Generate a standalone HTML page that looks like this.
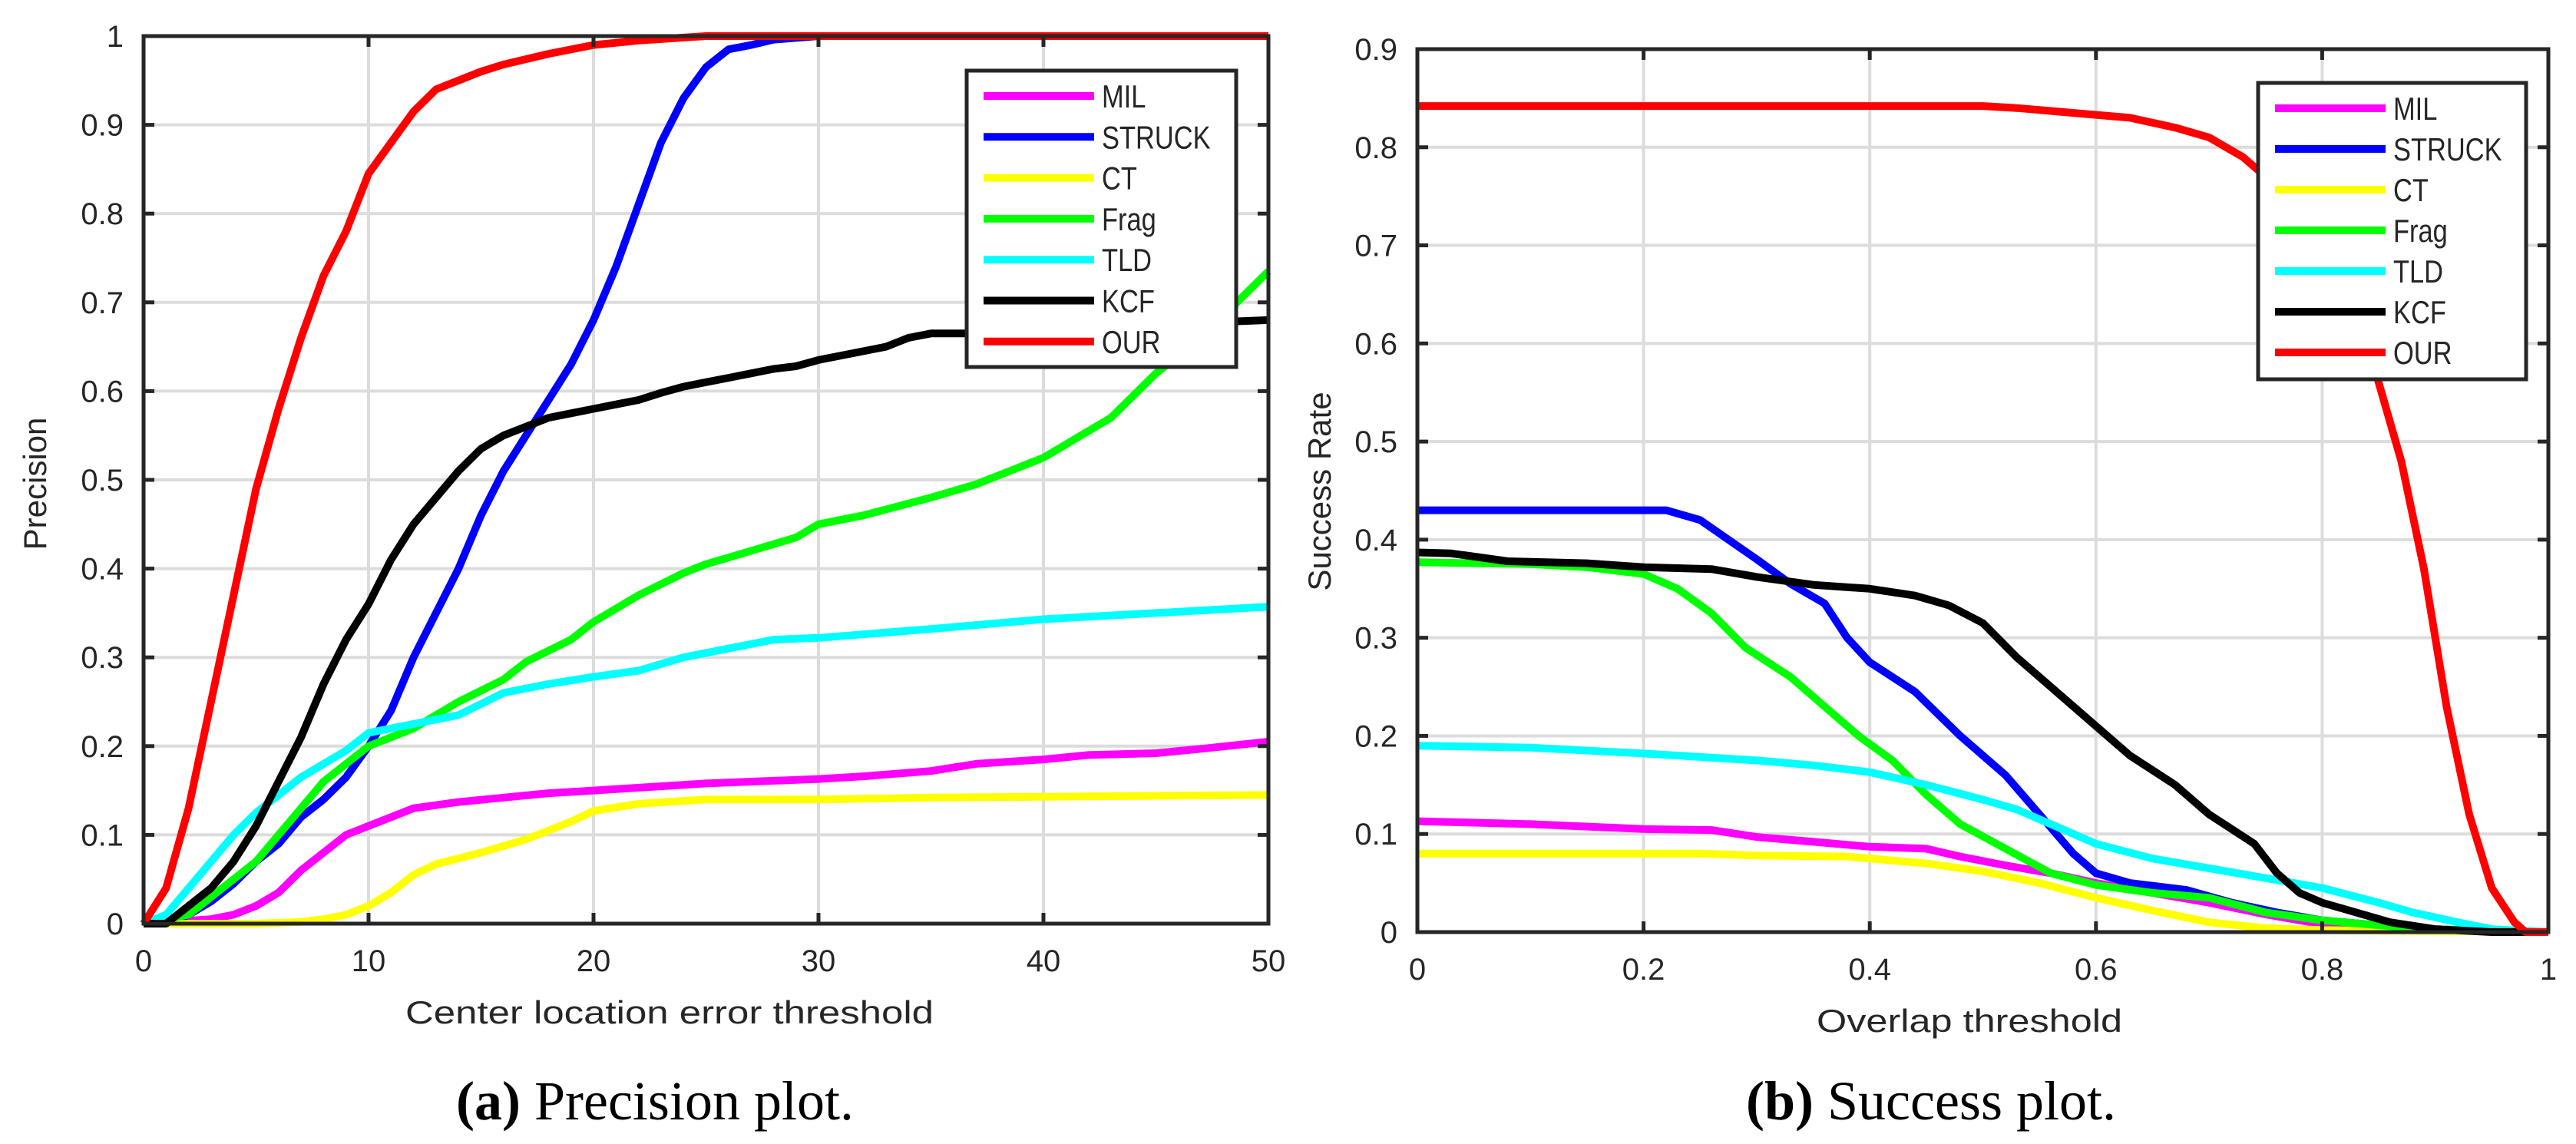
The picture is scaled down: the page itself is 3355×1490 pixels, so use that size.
<!DOCTYPE html>
<html><head><meta charset="utf-8"><style>
html,body{margin:0;padding:0;background:#fff;}
svg{display:block;}
text{font-family:"Liberation Sans",sans-serif;fill:#262626;}
</style></head><body>
<svg id="fig" width="3355" height="1490" viewBox="0 0 3355 1490" xmlns="http://www.w3.org/2000/svg">
<text x="853" y="1458" text-anchor="middle" style="font-family:'Liberation Serif',serif;font-size:72px;fill:#000"><tspan font-weight="bold">(a)</tspan> Precision plot.</text>
<text x="2515" y="1458" text-anchor="middle" style="font-family:'Liberation Serif',serif;font-size:72px;fill:#000"><tspan font-weight="bold">(b)</tspan> Success plot.</text>
</svg>
<script>
const names=["MIL","STRUCK","CT","Frag","TLD","KCF","OUR"];
const colors=["#ff00ff","#0000ff","#ffff00","#00ff00","#00ffff","#000000","#ff0000"];
// Precision plot data (x = threshold, y = precision)
const pMIL_x=[0,3,4,5,6,7,8,9,10,11,12,14,16,18,20,25,30,32,35,37,40,42,45,47,50];
const pMIL_y=[0,0.005,0.01,0.02,0.035,0.06,0.08,0.1,0.11,0.12,0.13,0.137,0.142,0.147,0.15,0.158,0.163,0.166,0.172,0.18,0.185,0.19,0.192,0.197,0.205];
const pSTRUCK_x=[0,1,2,3,4,5,6,7,8,9,10,11,12,13,14,15,16,17,18,19,20,21,22,23,24,25,26,27,28,30,50];
const pSTRUCK_y=[0,0,0.01,0.025,0.045,0.07,0.09,0.12,0.14,0.165,0.2,0.24,0.3,0.35,0.4,0.46,0.51,0.55,0.59,0.63,0.68,0.74,0.81,0.88,0.93,0.965,0.985,0.99,0.996,1,1];
const pCT_x=[0,5,7,8,9,10,11,12,13,15,17,19,20,22,25,30,35,40,50];
const pCT_y=[0,0,0.002,0.005,0.01,0.02,0.035,0.055,0.067,0.08,0.095,0.115,0.127,0.135,0.14,0.14,0.142,0.143,0.145];
const pFrag_x=[0,2,3,4,5,6,7,8,9,10,12,14,16,17,19,20,22,24,25,27,29,30,32,35,37,40,43,45,47,50];
const pFrag_y=[0,0.01,0.03,0.05,0.07,0.1,0.13,0.16,0.18,0.2,0.22,0.25,0.275,0.295,0.32,0.34,0.37,0.395,0.405,0.42,0.435,0.45,0.46,0.48,0.495,0.525,0.57,0.62,0.66,0.735];
const pTLD_x=[0,1,2,3,4,5,6,7,8,9,10,11,13,14,16,18,20,22,24,26,28,30,35,40,45,50];
const pTLD_y=[0,0.01,0.04,0.07,0.1,0.125,0.145,0.165,0.18,0.195,0.215,0.22,0.23,0.235,0.26,0.27,0.278,0.285,0.3,0.31,0.32,0.322,0.332,0.343,0.35,0.357];
const pKCF_x=[0,1,2,3,4,5,6,7,8,9,10,11,12,13,14,15,16,17,18,19,20,21,22,23,24,25,26,27,28,29,30,32,33,34,35,37,40,45,50];
const pKCF_y=[0,0,0.02,0.04,0.07,0.11,0.16,0.21,0.27,0.32,0.36,0.41,0.45,0.48,0.51,0.535,0.55,0.56,0.57,0.575,0.58,0.585,0.59,0.598,0.605,0.61,0.615,0.62,0.625,0.628,0.635,0.645,0.65,0.66,0.665,0.665,0.67,0.675,0.68];
const pOUR_x=[0,1,2,3,4,5,6,7,8,9,10,11,12,13,14,15,16,18,20,22,25,50];
const pOUR_y=[0,0.04,0.13,0.25,0.37,0.49,0.58,0.66,0.73,0.78,0.845,0.88,0.915,0.94,0.95,0.96,0.968,0.98,0.99,0.995,1,1];
// Success plot data (x = overlap threshold, y = success rate)
const sMIL_x=[0,0.1,0.2,0.26,0.3,0.35,0.4,0.45,0.48,0.52,0.56,0.6,0.65,0.7,0.75,0.8,0.85,0.9,1];
const sMIL_y=[0.113,0.11,0.105,0.104,0.097,0.092,0.087,0.085,0.077,0.068,0.06,0.05,0.04,0.03,0.018,0.008,0.004,0.002,0];
const sSTRUCK_x=[0,0.22,0.25,0.3,0.33,0.36,0.38,0.4,0.44,0.48,0.52,0.55,0.58,0.6,0.63,0.68,0.72,0.76,0.8,0.85,0.9,0.95,1];
const sSTRUCK_y=[0.43,0.43,0.42,0.38,0.355,0.335,0.3,0.275,0.245,0.2,0.16,0.12,0.08,0.06,0.05,0.043,0.03,0.02,0.012,0.007,0.003,0.001,0];
const sCT_x=[0,0.25,0.3,0.38,0.45,0.5,0.55,0.6,0.65,0.7,0.75,0.8,0.9,1];
const sCT_y=[0.08,0.08,0.078,0.077,0.07,0.062,0.05,0.035,0.022,0.01,0.004,0.002,0.001,0];
const sFrag_x=[0,0.1,0.15,0.2,0.23,0.26,0.29,0.33,0.36,0.39,0.42,0.45,0.48,0.52,0.56,0.6,0.65,0.7,0.75,0.8,0.85,0.9,0.95,1];
const sFrag_y=[0.377,0.375,0.372,0.365,0.35,0.325,0.29,0.26,0.23,0.2,0.175,0.14,0.11,0.085,0.06,0.048,0.04,0.035,0.02,0.012,0.007,0.003,0.001,0];
const sTLD_x=[0,0.1,0.2,0.3,0.35,0.4,0.45,0.5,0.53,0.56,0.6,0.65,0.7,0.75,0.8,0.85,0.88,0.92,0.95,1];
const sTLD_y=[0.19,0.188,0.182,0.175,0.17,0.163,0.15,0.135,0.125,0.11,0.09,0.075,0.065,0.055,0.045,0.03,0.02,0.01,0.003,0];
const sKCF_x=[0,0.03,0.08,0.15,0.2,0.26,0.3,0.35,0.4,0.44,0.47,0.5,0.53,0.57,0.6,0.63,0.67,0.7,0.74,0.76,0.78,0.8,0.83,0.86,0.9,0.95,1];
const sKCF_y=[0.387,0.386,0.378,0.376,0.372,0.37,0.362,0.354,0.35,0.343,0.333,0.315,0.28,0.24,0.21,0.18,0.15,0.12,0.09,0.06,0.04,0.03,0.02,0.01,0.003,0,0];
const sOUR_x=[0,0.5,0.53,0.6,0.63,0.67,0.7,0.73,0.75,0.8,0.84,0.87,0.89,0.91,0.93,0.95,0.97,0.98,1];
const sOUR_y=[0.842,0.842,0.84,0.833,0.83,0.82,0.81,0.79,0.77,0.68,0.6,0.48,0.37,0.23,0.12,0.045,0.01,0,0];
const pXT=[0,10,20,30,40,50], pXL=["0","10","20","30","40","50"];
const pYT=[0,0.1,0.2,0.3,0.4,0.5,0.6,0.7,0.8,0.9,1], pYL=["0","0.1","0.2","0.3","0.4","0.5","0.6","0.7","0.8","0.9","1"];
const sXT=[0,0.2,0.4,0.6,0.8,1], sXL=["0","0.2","0.4","0.6","0.8","1"];
const sYT=[0,0.1,0.2,0.3,0.4,0.5,0.6,0.7,0.8,0.9], sYL=["0","0.1","0.2","0.3","0.4","0.5","0.6","0.7","0.8","0.9"];

const NS="http://www.w3.org/2000/svg";
const svg=document.getElementById("fig");
function mk(tag,attrs,parent){const e=document.createElementNS(NS,tag);for(const k in attrs)e.setAttribute(k,attrs[k]);(parent||svg).appendChild(e);return e;}

function plot(cfg){
  const {L,R,T,B,xmin,xmax,ymin,ymax}=cfg;
  const sx=v=>L+(v-xmin)/(xmax-xmin)*(R-L);
  const sy=v=>B-(v-ymin)/(ymax-ymin)*(B-T);
  const g=mk("g",{});
  
  
  cfg.xt.forEach(v=>{const l=mk("line",{x1:sx(v),x2:sx(v),y1:T,y2:B,stroke:"#dcdcdc","stroke-width":4},g);
    
    });
  cfg.yt.forEach(v=>{const l=mk("line",{x1:L,x2:R,y1:sy(v),y2:sy(v),stroke:"#dcdcdc","stroke-width":4},g);
    
    });
  cfg.series.forEach((s,i)=>{
    const pts=s.x.map((xv,j)=>sx(xv).toFixed(1)+","+sy(s.y[j]).toFixed(1)).join(" ");
    const p=mk("polyline",{points:pts,fill:"none",stroke:colors[i],"stroke-width":10,"stroke-linejoin":"round"},g);
    
    
  });
  const box=mk("rect",{x:L,y:T,width:R-L,height:B-T,fill:"none",stroke:"#262626","stroke-width":5},g);
  
  
  cfg.xt.forEach((v,i)=>{
    mk("line",{x1:sx(v),x2:sx(v),y1:B,y2:B-14,stroke:"#262626","stroke-width":5},g);
    mk("line",{x1:sx(v),x2:sx(v),y1:T,y2:T+14,stroke:"#262626","stroke-width":5},g);
    const t=mk("text",{x:sx(v),y:B+62,"text-anchor":"middle","font-size":40},g);
    t.textContent=cfg.xl[i];
    
    
  });
  cfg.yt.forEach((v,i)=>{
    mk("line",{x1:L,x2:L+14,y1:sy(v),y2:sy(v),stroke:"#262626","stroke-width":5},g);
    mk("line",{x1:R,x2:R-14,y1:sy(v),y2:sy(v),stroke:"#262626","stroke-width":5},g);
    const t=mk("text",{x:L-26,y:sy(v)+14,"text-anchor":"end","font-size":40},g);
    t.textContent=cfg.yl[i];
    
    
  });
  const xt=mk("text",{x:cfg.xtx,y:cfg.xty,"text-anchor":"middle","font-size":42,textLength:cfg.xtw,lengthAdjust:"spacingAndGlyphs"},g);
  xt.textContent=cfg.xtitle;
  
  
  const yt=mk("text",{x:0,y:0,"text-anchor":"middle","font-size":42,transform:`translate(${cfg.ytx},${cfg.yty}) rotate(-90)`},g);
  yt.textContent=cfg.ytitle;
  
  
  const lg=cfg.leg;
  const lgG=mk("g",{},g);
  
  
  mk("rect",{x:lg.x,y:lg.y,width:lg.w,height:lg.h,fill:"#fff",stroke:"#262626","stroke-width":5},lgG);
  names.forEach((n,i)=>{
    const yy=lg.y0+i*lg.dy;
    const e=mk("g",{},lgG);
    
    
    mk("line",{x1:lg.x+22,x2:lg.x+166,y1:yy,y2:yy,stroke:colors[i],"stroke-width":10},e);
    const t=mk("text",{x:lg.x+176,y:yy+15,"font-size":42,fill:"#000"},e);
    t.textContent=n;
    t.setAttribute('transform',`translate(${lg.x+176},0) scale(0.82,1) translate(${-(lg.x+176)},0)`);
  });
}

plot({name:"precision-plot",L:187,R:1652,T:47,B:1203,xmin:0,xmax:50,ymin:0,ymax:1,
  xt:pXT,xl:pXL,yt:pYT,yl:pYL,
  xtitle:"Center location error threshold",xtx:872,xty:1333,xtw:688,
  ytitle:"Precision",ytx:60,yty:630,
  leg:{x:1259,y:92,w:351,h:386,y0:125,dy:53.3},
  series:[{x:pMIL_x,y:pMIL_y},{x:pSTRUCK_x,y:pSTRUCK_y},{x:pCT_x,y:pCT_y},{x:pFrag_x,y:pFrag_y},{x:pTLD_x,y:pTLD_y},{x:pKCF_x,y:pKCF_y},{x:pOUR_x,y:pOUR_y}]});
plot({name:"success-plot",L:1846,R:3319,T:64,B:1214,xmin:0,xmax:1,ymin:0,ymax:0.9,
  xt:sXT,xl:sXL,yt:sYT,yl:sYL,
  xtitle:"Overlap threshold",xtx:2565,xty:1344,xtw:398,
  ytitle:"Success Rate",ytx:1733,yty:640,
  leg:{x:2941,y:108,w:349,h:386,y0:141,dy:53},
  series:[{x:sMIL_x,y:sMIL_y},{x:sSTRUCK_x,y:sSTRUCK_y},{x:sCT_x,y:sCT_y},{x:sFrag_x,y:sFrag_y},{x:sTLD_x,y:sTLD_y},{x:sKCF_x,y:sKCF_y},{x:sOUR_x,y:sOUR_y}]});
</script>
</body></html>
